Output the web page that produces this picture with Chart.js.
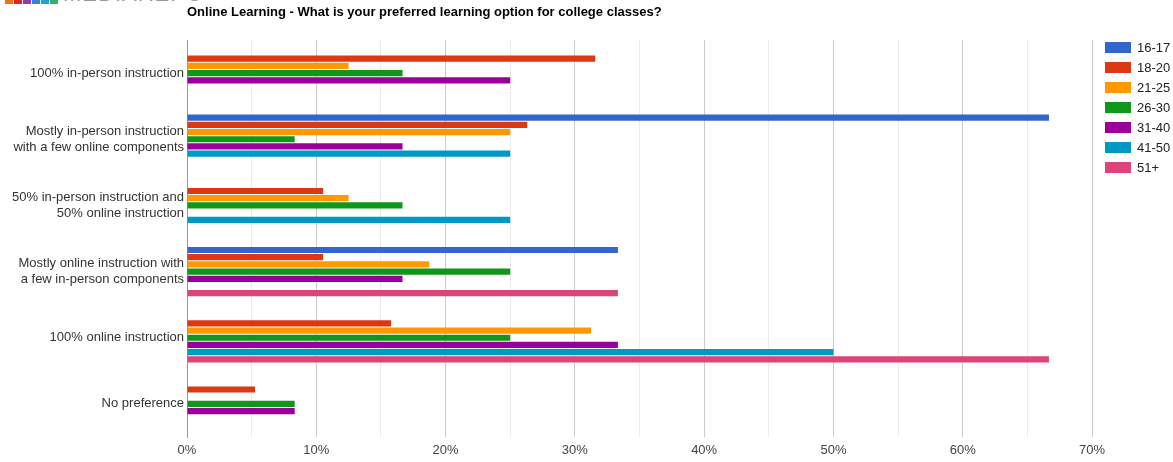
<!DOCTYPE html>
<html>
<head>
<meta charset="utf-8">
<script src="https://cdn.jsdelivr.net/npm/chart.js@4/dist/chart.umd.min.js"></script>
<style>
  html, body { margin: 0; padding: 0; background: #fff; }
  #wrap { position: relative; width: 1173px; height: 462px; overflow: hidden; font-family: "Liberation Sans", Arial, sans-serif; }
  #chart { position: absolute; left: 0; top: 0; }
  #brand { position: absolute; left: 5px; top: -16px; height: 20px; display: flex; align-items: flex-end; }
  #brand span.sq { display: inline-block; width: 8px; height: 8px; margin-right: 1px; }
  #brand span.txt { font-size: 22px; color: #9a9a9a; letter-spacing: 1px; margin-left: 4px; line-height: 20px; font-weight: 300; }
  #legend { position: absolute; left: 1105px; top: 42px; }
  .item { position: relative; height: 20px; }
  .item .box { position: absolute; left: 0; top: 0; width: 26px; height: 11px; }
  .item .lbl { position: absolute; left: 32px; top: -2px; font-size: 13px; line-height: 15px; color: #222; white-space: nowrap; }
</style>
</head>
<body>
<div id="wrap">
  <canvas id="chart" width="1173" height="462"></canvas>
  <div id="brand">
    <span class="sq" style="background:#f0701c"></span>
    <span class="sq" style="background:#e0262b"></span>
    <span class="sq" style="background:#8d3ca8"></span>
    <span class="sq" style="background:#2f86d6"></span>
    <span class="sq" style="background:#27a0cf"></span>
    <span class="sq" style="background:#2fb56b"></span>
    <span class="txt">MEDIAREPO</span>
  </div>
  <div id="legend"></div>
</div>
<script>
// Survey answers, share of each age group (percent)
const categories = [
  '100% in-person instruction',
  ['Mostly in-person instruction', 'with a few online components'],
  ['50% in-person instruction and', '50% online instruction'],
  ['Mostly online instruction with', 'a few in-person components'],
  '100% online instruction',
  'No preference'
];

const ageGroups = ['16-17', '18-20', '21-25', '26-30', '31-40', '41-50', '51+'];
const groupColors = ['#3366cc', '#dc3912', '#ff9900', '#109618', '#990099', '#0099c6', '#dd4477'];

const age16to17 = [0, 66.67, 0, 33.33, 0, 0];
const age18to20 = [31.58, 26.32, 10.53, 10.53, 15.79, 5.26];
const age21to25 = [12.5, 25, 12.5, 18.75, 31.25, 0];
const age26to30 = [16.67, 8.33, 16.67, 25, 25, 8.33];
const age31to40 = [25, 16.67, 0, 16.67, 33.33, 8.33];
const age41to50 = [0, 25, 25, 0, 50, 0];
const age51plus = [0, 0, 0, 33.33, 66.67, 0];

const xTickLabels = ['0%', '10%', '20%', '30%', '40%', '50%', '60%', '70%'];

const seriesValues = [age16to17, age18to20, age21to25, age26to30, age31to40, age41to50, age51plus];

const datasets = seriesValues.map((values, i) => ({
  label: ageGroups[i],
  data: values,
  backgroundColor: groupColors[i],
  borderWidth: 0,
  categoryPercentage: 0.762,
  barPercentage: 0.86
}));

// legend built from the same series definitions
const legendEl = document.getElementById('legend');
ageGroups.forEach((name, i) => {
  const row = document.createElement('div');
  row.className = 'item';
  row.innerHTML = '<span class="box" style="background:' + groupColors[i] + '"></span><span class="lbl">' + name + '</span>';
  legendEl.appendChild(row);
});

Chart.defaults.font.family = '"Liberation Sans", Arial, sans-serif';
Chart.defaults.font.size = 13;

new Chart(document.getElementById('chart'), {
  type: 'bar',
  data: { labels: categories, datasets },
  options: {
    indexAxis: 'y',
    responsive: false,
    animation: false,
    layout: { padding: { left: 0, right: 81, top: 0, bottom: 0 } },
    plugins: {
      legend: { display: false },
      tooltip: { enabled: false },
      title: {
        display: true,
        text: 'Online Learning - What is your preferred learning option for college classes?',
        align: 'start',
        fullSize: false,
        color: '#000',
        font: { size: 13, weight: 'bold', lineHeight: 1.2 },
        padding: { top: 5, bottom: 19.4 }
      }
    },
    scales: {
      x: {
        min: 0,
        max: 70,
        ticks: {
          stepSize: 5,
          color: '#444',
          padding: 6,
          maxRotation: 0,
          autoSkip: false,
          callback: (v, idx) => (idx % 2 === 0 ? xTickLabels[idx / 2] : '')
        },
        grid: {
          drawTicks: false,
          color: ctx => (ctx.tick && ctx.tick.value % 10 === 0 ? '#cccccc' : '#ebebeb')
        },
        border: { display: false },
        afterFit: s => { s.height = 25; }
      },
      y: {
        ticks: { color: '#333', padding: 3, autoSkip: false, font: { size: 13, lineHeight: 1.25 } },
        grid: { display: false, drawTicks: false },
        border: { display: true, color: '#999', width: 1 },
        afterFit: s => { s.width = 187; }
      }
    }
  }
});
</script>
</body>
</html>
